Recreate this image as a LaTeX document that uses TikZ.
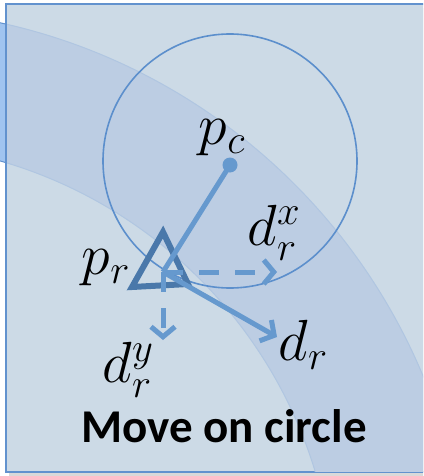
\RequirePackage{fix-cm}
\documentclass[tikz,border=0pt]{standalone}
\usepackage{fontspec}
\newfontfamily\movefont{Carlito}
\usetikzlibrary{arrows.meta}
\definecolor{frameblue}{RGB}{98,146,206}
\definecolor{panelfill}{RGB}{204,218,230}
\definecolor{bandout}{RGB}{160,196,240}
\definecolor{bandin}{RGB}{188,205,227}
\definecolor{bandedge}{RGB}{176,198,225}
\definecolor{ringblue}{RGB}{92,143,204}
\definecolor{stepblue}{RGB}{102,153,206}
\definecolor{robotblue}{RGB}{74,120,170}
\tikzset{move edge/.style={draw=stepblue, line width=5pt, -{Straight Barb[length=10pt,width=24pt]}}}
\tikzset{move panel/.style={draw=frameblue, line width=2pt, fill=panelfill}}
\tikzset{move band out/.style={draw=frameblue, line width=1pt, fill=bandout}}
\tikzset{move band in/.style={draw=bandedge, line width=1pt, fill=bandin}}
\tikzset{move ring/.style={circle, draw=ringblue, line width=1.6pt, inner sep=0pt}}
\tikzset{move dot/.style={circle, fill=stepblue, inner sep=0pt, minimum size=15pt}}
\tikzset{move robot/.style={draw=robotblue, line width=6pt, line join=miter}}
\tikzset{move label/.style={inner sep=0pt, font=\fontsize{58}{60}\selectfont}}
\tikzset{move title/.style={inner sep=0pt, font=\fontsize{47}{50}\selectfont\movefont\bfseries}}

\begin{document}
\begin{tikzpicture}[x=1pt,y=-1pt]
	\useasboundingbox (0,0) rectangle (423,476);
	\clip (0,0) rectangle (423,476);
	\coordinate (bandc) at (-128,606);

	% band sticking out on the left
	\begin{scope}
		\clip (0,0) rectangle (6,476);
		\filldraw[move band out, even odd rule] (bandc) circle[radius=597] (bandc) circle[radius=463];
	\end{scope}

	% panel with its shadow
	\fill[black!15] (9,8) rectangle (430,476);
	\draw[move panel] (6,4) rectangle (430,472);
	\begin{scope}
		\clip (7,5) rectangle (430,471);
		\filldraw[move band in, even odd rule] (bandc) circle[radius=597] (bandc) circle[radius=463];
	\end{scope}

	\node[move ring, minimum size=254pt] (ring) at (230,161) {};

	\coordinate (pr) at (163,272);
	\coordinate (drx) at (277,272);
	\coordinate (dry) at (163,340);
	\coordinate (dr) at (277,337);
	\coordinate (ra) at (163,232);
	\coordinate (rb) at (132,287);
	\coordinate (rc) at (188,284);

	\draw[move robot] (ra) -- (rb) -- (rc) -- cycle;

	\node[move dot] (pc) at (230,165) {};
	\draw[draw=stepblue, line width=5pt] (pc.center) -- (pr);
	\draw[move edge] (pr) -- (dr);
	\draw[move edge, dash pattern=on 20pt off 16pt] (pr) -- (drx);
	\draw[move edge, dash pattern=on 20pt off 16pt] (pr) -- (dry);

	\node[move label] (pclabel) at (222,138) {$p_c$};
	\node[move label] (prlabel) at (106,268) {$p_r$};
	\node[move label] (drxlabel) at (274,233) {$d_r^x$};
	\node[move label] (drylabel) at (128,370) {$d_r^y$};
	\node[move label] (drlabel) at (303,345) {$d_r$};

	\node[move title, anchor=base] (title) at (224,442) {Move on circle};
\end{tikzpicture}
\end{document}
